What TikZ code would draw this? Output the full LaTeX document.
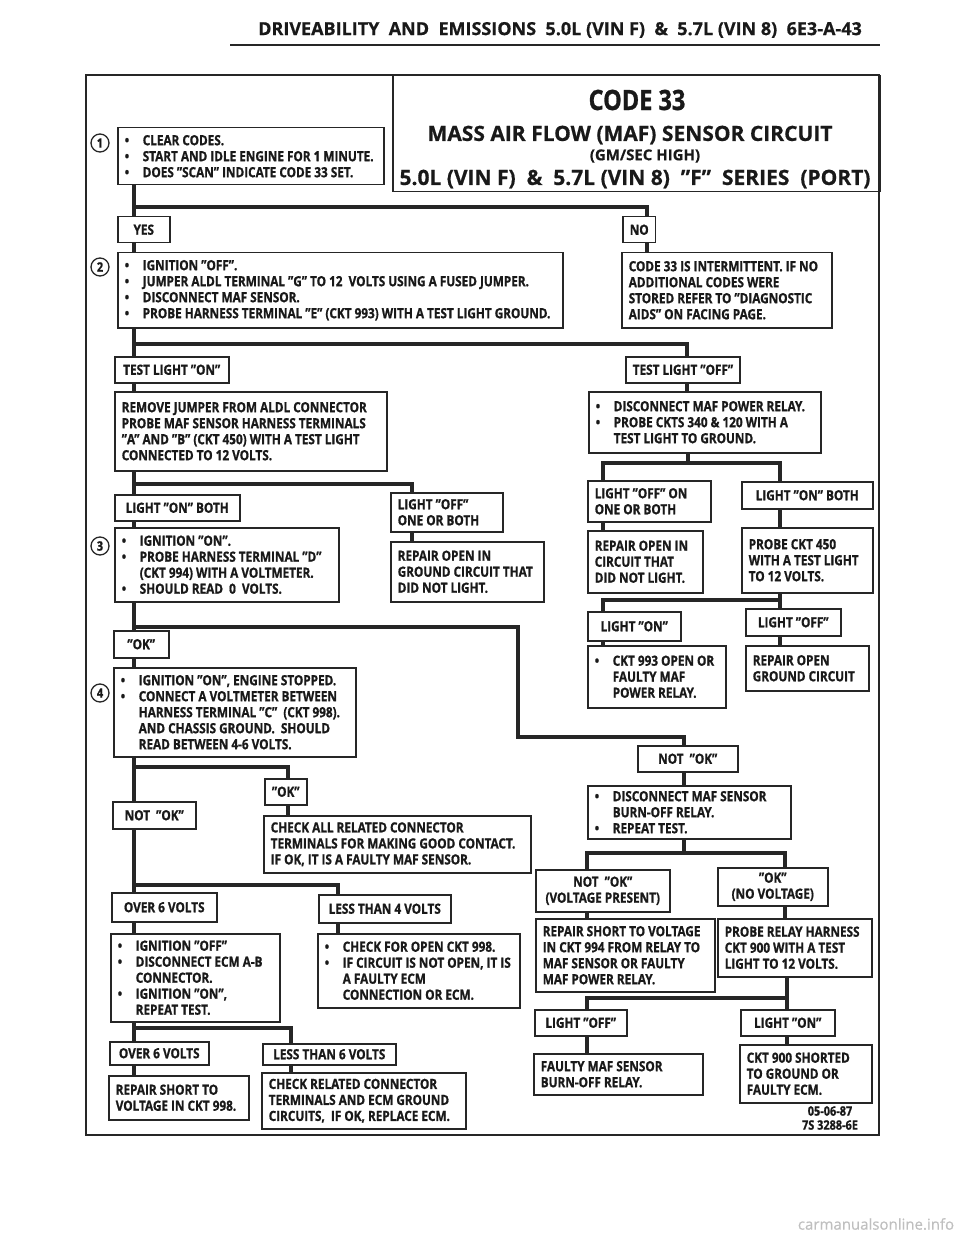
\documentclass[tikz,border=0pt]{standalone}
\usepackage{fontspec}
\setmainfont{Open Sans}[FakeStretch=0.84, FakeBold=1]
\newfontfamily\widefont{Open Sans}[Ligatures=TeX, FakeBold=0.6]
\usepackage{tikz}

\newcommand{\bl}{\makebox[18pt][l]{\textbullet}}
\newcommand{\ind}{\hspace*{18pt}}

\begin{document}
\begin{tikzpicture}[
x=1pt, y=-1pt,
every node/.style={font=\bfseries\fontsize{14}{16}\selectfont, text=black!90},
boxnode/.style={rectangle, draw=black!85, line width=1.5pt, anchor=north west,
inner xsep=7pt, inner ysep=2pt},
stepnode/.style={boxnode, align=left,
execute at begin node={\hyphenpenalty=10000\spaceskip=0pt\xspaceskip=0pt}},
tagnode/.style={boxnode, align=center},
numnode/.style={circle, draw=black!85, line width=1.3pt, minimum size=18pt,
inner sep=0pt, font=\bfseries\fontsize{13}{13}\selectfont},
linknode/.style={line width=3.5pt, black!85, line join=miter}
]
\useasboundingbox (0,0) rectangle (960,1238);

% page head and frame
\node[font=\widefont\bfseries\fontsize{18}{20}\selectfont] (head) at (560,30)
{DRIVEABILITY \ AND \ EMISSIONS \ 5.0L (VIN F) \ \& \ 5.7L (VIN 8) \ 6E3-A-43};
\draw[line width=1.5pt, black!85] (230,45) -- (880,45);
\draw[line width=2pt, black!85] (86,75) rectangle (879,1135);

% title
\node[boxnode, minimum width=487pt, minimum height=116pt] (title) at (392,75) {};
\node[font=\bfseries\fontsize{28}{32}\selectfont] (tcode) at (637,100) {CODE 33};
\node[font=\widefont\bfseries\fontsize{21}{24}\selectfont] (tname) at (630,135) {MASS AIR FLOW (MAF) SENSOR CIRCUIT};
\node[font=\widefont\bfseries\fontsize{15}{18}\selectfont] (tsub) at (645,156) {(GM/SEC HIGH)};
\node[font=\widefont\bfseries\fontsize{21}{24}\selectfont] (tser) at (635,179)
{5.0L (VIN F) \ \& \ 5.7L (VIN 8) \ ''F'' \ SERIES \ (PORT)};

% step numbers
\node[numnode] (n1) at (100,143) {1};
\node[numnode] (n2) at (100,267) {2};
\node[numnode] (n3) at (100,546) {3};
\node[numnode] (n4) at (100,693) {4};

% step 1
\node[stepnode, text width=252pt, minimum height=57pt] (q1) at (117,127)
{\bl CLEAR CODES.\\ \bl START AND IDLE ENGINE FOR 1 MINUTE.\\ \bl DOES ''SCAN'' INDICATE CODE 33 SET.};
\node[tagnode, minimum width=52pt, minimum height=26pt] (yes) at (117,216) {YES};
\node[tagnode, minimum width=30pt, minimum height=26pt] (no) at (622,216) {NO};

% step 2
\node[stepnode, text width=431pt, minimum height=75pt] (q2) at (117,252)
{\bl IGNITION ''OFF''.\\ \bl JUMPER ALDL TERMINAL ''G'' TO 12 \ VOLTS USING A FUSED JUMPER.\\
\bl DISCONNECT MAF SENSOR.\\ \bl PROBE HARNESS TERMINAL ''E'' (CKT 993) WITH A TEST LIGHT GROUND.};
\node[stepnode, text width=196pt, minimum height=75pt] (intm) at (621,252)
{CODE 33 IS INTERMITTENT. IF NO\\ ADDITIONAL CODES WERE\\ STORED REFER TO ''DIAGNOSTIC\\ AIDS'' ON FACING PAGE.};
\node[tagnode, minimum width=114pt, minimum height=26pt] (tlon) at (114,356) {TEST LIGHT ''ON''};
\node[tagnode, minimum width=112pt, minimum height=26pt] (tloff) at (625,356) {TEST LIGHT ''OFF''};
\node[stepnode, text width=258pt, minimum height=79pt] (rmj) at (114,391)
{REMOVE JUMPER FROM ALDL CONNECTOR\\ PROBE MAF SENSOR HARNESS TERMINALS\\
''A'' AND ''B'' (CKT 450) WITH A TEST LIGHT\\ CONNECTED TO 12 VOLTS.};
\node[stepnode, text width=218pt, minimum height=61pt] (dpr) at (588,391)
{\bl DISCONNECT MAF POWER RELAY.\\ \bl PROBE CKTS 340 \& 120 WITH A\\ \ind TEST LIGHT TO GROUND.};

% step 3 and relay checks
\node[tagnode, minimum width=125pt, minimum height=26pt] (lonb) at (114,494) {LIGHT ''ON'' BOTH};
\node[stepnode, text width=98pt, minimum height=39pt] (loffob) at (390,492) {LIGHT ''OFF''\\ ONE OR BOTH};
\node[stepnode, text width=210pt, minimum height=74pt] (q3) at (114,527)
{\bl IGNITION ''ON''.\\ \bl PROBE HARNESS TERMINAL ''D''\\ \ind (CKT 994) WITH A VOLTMETER.\\ \bl SHOULD READ \ 0 \ VOLTS.};
\node[stepnode, text width=139pt, minimum height=60pt] (rog) at (390,541)
{REPAIR OPEN IN\\ GROUND CIRCUIT THAT\\ DID NOT LIGHT.};
\node[stepnode, text width=109pt, minimum height=41pt] (loffob2) at (587,480) {LIGHT ''OFF'' ON\\ ONE OR BOTH};
\node[tagnode, minimum width=131pt, minimum height=27pt] (lonb2) at (741,481) {LIGHT ''ON'' BOTH};
\node[stepnode, text width=101pt, minimum height=62pt] (roc) at (587,530)
{REPAIR OPEN IN\\ CIRCUIT THAT\\ DID NOT LIGHT.};
\node[stepnode, text width=117pt, minimum height=65pt] (p450) at (741,527)
{PROBE CKT 450\\ WITH A TEST LIGHT\\ TO 12 VOLTS.};
\node[tagnode, minimum width=93pt, minimum height=29pt] (lon3) at (587,611) {LIGHT ''ON''};
\node[tagnode, minimum width=95pt, minimum height=27pt] (loff3) at (745,608) {LIGHT ''OFF''};
\node[stepnode, text width=124pt, minimum height=62pt] (c993) at (587,645)
{\bl CKT 993 OPEN OR\\ \ind FAULTY MAF\\ \ind POWER RELAY.};
\node[stepnode, text width=109pt, minimum height=45pt] (rogc) at (745,645) {REPAIR OPEN\\ GROUND CIRCUIT};

% step 4
\node[tagnode, minimum width=55pt, minimum height=27pt] (ok1) at (113,630) {''OK''};
\node[stepnode, text width=228pt, minimum height=89pt] (q4) at (113,667)
{\bl IGNITION ''ON'', ENGINE STOPPED.\\ \bl CONNECT A VOLTMETER BETWEEN\\
\ind HARNESS TERMINAL ''C'' \ (CKT 998).\\ \ind AND CHASSIS GROUND. \ SHOULD\\ \ind READ BETWEEN 4-6 VOLTS.};
\node[tagnode, minimum width=100pt, minimum height=26pt] (nok1) at (637,745) {NOT \ ''OK''};
\node[stepnode, text width=189pt, minimum height=53pt] (dbo) at (587,785)
{\bl DISCONNECT MAF SENSOR\\ \ind BURN-OFF RELAY.\\ \bl REPEAT TEST.};
\node[tagnode, minimum width=42pt, minimum height=26pt] (ok2) at (264,778) {''OK''};
\node[tagnode, minimum width=83pt, minimum height=27pt] (nok2) at (112,801) {NOT \ ''OK''};
\node[stepnode, text width=253pt, minimum height=57pt] (chk) at (263,815)
{CHECK ALL RELATED CONNECTOR\\ TERMINALS FOR MAKING GOOD CONTACT.\\ IF OK, IT IS A FAULTY MAF SENSOR.};

% burn-off relay branch
\node[tagnode, minimum width=134pt, minimum height=42pt] (nokv) at (535,869) {NOT \ ''OK''\\ (VOLTAGE PRESENT)};
\node[tagnode, minimum width=110pt, minimum height=38pt] (okv) at (717,867) {''OK''\\ (NO VOLTAGE)};
\node[stepnode, text width=165pt, minimum height=73pt] (rsv) at (535,918)
{REPAIR SHORT TO VOLTAGE\\ IN CKT 994 FROM RELAY TO\\ MAF SENSOR OR FAULTY\\ MAF POWER RELAY.};
\node[stepnode, text width=140pt, minimum height=58pt] (prh) at (717,918)
{PROBE RELAY HARNESS\\ CKT 900 WITH A TEST\\ LIGHT TO 12 VOLTS.};
\node[tagnode, minimum width=92pt, minimum height=26pt] (loff4) at (534,1009) {LIGHT ''OFF''};
\node[tagnode, minimum width=94pt, minimum height=26pt] (lon4) at (740,1009) {LIGHT ''ON''};
\node[stepnode, text width=155pt, minimum height=41pt] (fms) at (533,1053) {FAULTY MAF SENSOR\\ BURN-OFF RELAY.};
\node[stepnode, text width=118pt, minimum height=58pt] (c900) at (739,1044)
{CKT 900 SHORTED\\ TO GROUND OR\\ FAULTY ECM.};
\node[font=\bfseries\fontsize{13}{14}\selectfont] (date) at (830,1111) {05-06-87};
\node[font=\bfseries\fontsize{13}{14}\selectfont] (fig) at (830,1125) {7S 3288-6E};

% voltage branch
\node[tagnode, minimum width=105pt, minimum height=29pt] (ov6) at (111,892) {OVER 6 VOLTS};
\node[tagnode, minimum width=132pt, minimum height=28pt] (lt4) at (318,894) {LESS THAN 4 VOLTS};
\node[stepnode, text width=155pt, minimum height=88pt] (ign) at (110,933)
{\bl IGNITION ''OFF''\\ \bl DISCONNECT ECM A-B\\ \ind CONNECTOR.\\ \bl IGNITION ''ON'',\\ \ind REPEAT TEST.};
\node[stepnode, text width=188pt, minimum height=74pt] (cfo) at (317,933)
{\bl CHECK FOR OPEN CKT 998.\\ \bl IF CIRCUIT IS NOT OPEN, IT IS\\ \ind A FAULTY ECM\\ \ind CONNECTION OR ECM.};
\node[tagnode, minimum width=99pt, minimum height=23pt] (ov6b) at (109,1041) {OVER 6 VOLTS};
\node[tagnode, minimum width=133pt, minimum height=21pt] (lt6) at (262,1043) {LESS THAN 6 VOLTS};
\node[stepnode, text width=126pt, minimum height=44pt] (rs998) at (108,1075) {REPAIR SHORT TO\\ VOLTAGE IN CKT 998.};
\node[stepnode, text width=190pt, minimum height=56pt] (crc) at (261,1072)
{CHECK RELATED CONNECTOR\\ TERMINALS AND ECM GROUND\\ CIRCUITS, \ IF OK, REPLACE ECM.};

\node[font=\widefont\mdseries\fontsize{15}{15}\selectfont, text=black!25] (wm) at (876,1224) {carmanualsonline.info};

% junctions
\coordinate (j1) at (134,207);
\coordinate (j2) at (134,344);
\coordinate (j3) at (134,484);
\coordinate (j4) at (688,463);
\coordinate (k4l) at (603,463);
\coordinate (k4r) at (780,463);
\coordinate (k5l) at (603,600);
\coordinate (k5r) at (780,600);
\coordinate (j6) at (134,627);
\coordinate (k6a) at (518,627);
\coordinate (k6b) at (518,737);
\coordinate (k6c) at (684,737);
\coordinate (j7) at (134,767);
\coordinate (k7) at (288,767);
\coordinate (j8) at (684,853);
\coordinate (k8l) at (587,853);
\coordinate (k8r) at (785,853);
\coordinate (k9l) at (587,998);
\coordinate (k9r) at (787,998);
\coordinate (j10) at (134,885);
\coordinate (k10) at (338,885);
\coordinate (j11) at (134,1028);
\coordinate (k11) at (291,1028);

% connectors
\draw[linknode] (q1.south -| j1) -- (yes.north -| j1);
\draw[linknode] (j1) -| ([xshift=8pt]no.north);
\draw[linknode] (yes.south -| j1) -- (q2.north -| j1);
\draw[linknode] ([xshift=8pt]no.south) -- ([xshift=8pt]no.south |- intm.north);

\draw[linknode] (q2.south -| j2) -- (tlon.north -| j2);
\draw[linknode] (j2) -| ([xshift=4pt]tloff.north);
\draw[linknode] (tlon.south -| j2) -- (rmj.north -| j2);
\draw[linknode] ([xshift=4pt]tloff.south) -- ([xshift=4pt]tloff.south |- dpr.north);

\draw[linknode] (rmj.south -| j3) -- (lonb.north -| j3);
\draw[linknode] (j3) -| ([xshift=22pt]loffob.north west);
\draw[linknode] (lonb.south -| j3) -- (q3.north -| j3);
\draw[linknode] ([xshift=22pt]loffob.south west) -- ([xshift=22pt]loffob.south west |- rog.north);

\draw[linknode] (dpr.south -| j4) -- (j4);
\draw[linknode] (k4l |- loffob2.north) -- (k4l) -- (k4r) -- (k4r |- lonb2.north);
\draw[linknode] (k4l |- loffob2.south) -- (k4l |- roc.north);
\draw[linknode] (k4r |- lonb2.south) -- (k4r |- p450.north);
\draw[linknode] (k5r |- p450.south) -- (k5r);
\draw[linknode] (k5l |- lon3.north) -- (k5l) -- (k5r) -- (k5r |- loff3.north);
\draw[linknode] (k5l |- lon3.south) -- (k5l |- c993.north);
\draw[linknode] (k5r |- loff3.south) -- (k5r |- rogc.north);

\draw[linknode] (q3.south -| j6) -- (ok1.north -| j6);
\draw[linknode] (j6) -- (k6a) -- (k6b) -- (k6c) -- (k6c |- nok1.north);
\draw[linknode] (ok1.south -| j6) -- (q4.north -| j6);
\draw[linknode] (k6c |- nok1.south) -- (k6c |- dbo.north);

\draw[linknode] (q4.south -| j7) -- (nok2.north -| j7);
\draw[linknode] (j7) -- (k7) -- (k7 |- ok2.north);
\draw[linknode] (k7 |- ok2.south) -- (k7 |- chk.north);

\draw[linknode] (j8 |- dbo.south) -- (j8);
\draw[linknode] (k8l |- nokv.north) -- (k8l) -- (k8r) -- (k8r |- okv.north);
\draw[linknode] (k8l |- nokv.south) -- (k8l |- rsv.north);
\draw[linknode] (k8r |- okv.south) -- (k8r |- prh.north);
\draw[linknode] (k9r |- prh.south) -- (k9r);
\draw[linknode] (k9l |- loff4.north) -- (k9l) -- (k9r) -- (k9r |- lon4.north);
\draw[linknode] (k9l |- loff4.south) -- (k9l |- fms.north);
\draw[linknode] (k9r |- lon4.south) -- (k9r |- c900.north);

\draw[linknode] (nok2.south -| j10) -- (ov6.north -| j10);
\draw[linknode] (j10) -- (k10) -- (k10 |- lt4.north);
\draw[linknode] (ov6.south -| j10) -- (ign.north -| j10);
\draw[linknode] (k10 |- lt4.south) -- (k10 |- cfo.north);

\draw[linknode] (ign.south -| j11) -- (ov6b.north -| j11);
\draw[linknode] (j11) -- (k11) -- (k11 |- lt6.north);
\draw[linknode] (ov6b.south -| j11) -- (rs998.north -| j11);
\draw[linknode] (k11 |- lt6.south) -- (k11 |- crc.north);

\end{tikzpicture}
\end{document}
